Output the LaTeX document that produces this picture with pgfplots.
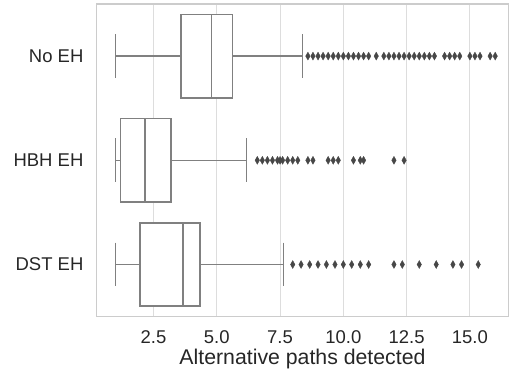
\documentclass[border=0pt]{standalone}
\usepackage{pgfplots}
\pgfplotsset{compat=1.18}
\usepgfplotslibrary{statistics}
\usepackage{fontspec}
\setmainfont{Liberation Sans}
\definecolor{boxgray}{HTML}{808080}
\definecolor{outgray}{HTML}{474747}
\definecolor{gridgray}{HTML}{DDDDDD}
\definecolor{framegray}{HTML}{CCCCCC}
\definecolor{txt}{HTML}{262626}
\begin{document}
\begin{tikzpicture}
\begin{axis}[
  name=ax,
  scale only axis,
  width=412.3pt, height=313pt,
  xmin=0.25, xmax=16.52,
  ymin=-0.5, ymax=2.5,
  y dir=reverse,
  xtick={2.5,5,7.5,10,12.5,15},
  xticklabels={2.5,5.0,7.5,10.0,12.5,15.0},
  ytick={0,1,2},
  yticklabels={No EH,HBH EH,DST EH},
  major tick length=0pt,
  xmajorgrids,
  grid style={color=gridgray, line width=1.1pt},
  axis line style={color=framegray, line width=1.3pt},
  every tick label/.append style={inner sep=0pt, text=txt, font=\fontsize{18.5}{22}\selectfont},
  yticklabel style={xshift=-13pt},
  xticklabel style={yshift=-14pt},
  xlabel={Alternative paths detected},
  xlabel style={at={(axis description cs:0.5,0)}, anchor=base, yshift=-48pt, inner sep=0pt, text=txt, font=\fontsize{21.3}{25}\selectfont},
  boxplot/draw direction=x,
  boxplot/every box/.style={draw=boxgray, line width=1.6pt, fill=white},
  boxplot/every whisker/.style={draw=boxgray, line width=1.6pt},
  boxplot/every median/.style={draw=boxgray, line width=1.6pt},
  clip=false,
]
\addplot[draw=boxgray, line width=1.6pt, fill=white, mark=diamond*, mark size=4pt,
  mark options={draw=outgray, fill=outgray, xscale=0.75, line width=0.3pt},
  boxplot prepared={draw position=0, lower whisker=1.0, lower quartile=3.59, median=4.79, upper quartile=5.62, upper whisker=8.38, box extend=0.8, whisker extend=0.42}]
coordinates {(0,8.6)(0,8.8)(0,9.0)(0,9.2)(0,9.4)(0,9.6)(0,9.8)(0,10.0)(0,10.2)(0,10.4)(0,10.6)(0,10.8)(0,11.0)
(0,11.3)
(0,11.6)(0,11.8)(0,12.0)(0,12.2)(0,12.4)(0,12.6)(0,12.8)(0,13.0)(0,13.2)(0,13.4)(0,13.6)
(0,14.0)(0,14.2)(0,14.4)(0,14.6)
(0,15.0)(0,15.2)(0,15.4)
(0,15.8)(0,16.0)};
\addplot[draw=boxgray, line width=1.6pt, fill=white, mark=diamond*, mark size=4pt,
  mark options={draw=outgray, fill=outgray, xscale=0.75, line width=0.3pt},
  boxplot prepared={draw position=1, lower whisker=1.0, lower quartile=1.2, median=2.17, upper quartile=3.2, upper whisker=6.18, box extend=0.8, whisker extend=0.42}]
coordinates {(0,6.6)(0,6.8)(0,7.0)(0,7.2)(0,7.4)(0,7.5)(0,7.6)(0,7.8)(0,8.0)(0,8.2)
(0,8.6)(0,8.8)(0,9.4)(0,9.6)(0,9.8)(0,10.4)(0,10.67)(0,10.8)(0,12.0)(0,12.4)};
\addplot[draw=boxgray, line width=1.6pt, fill=white, mark=diamond*, mark size=4pt,
  mark options={draw=outgray, fill=outgray, xscale=0.75, line width=0.3pt},
  boxplot prepared={draw position=2, lower whisker=1.0, lower quartile=1.97, median=3.67, upper quartile=4.33, upper whisker=7.64, box extend=0.8, whisker extend=0.42}]
coordinates {(0,8.0)(0,8.33)(0,8.67)(0,9.0)(0,9.33)(0,9.67)(0,10.0)(0,10.33)(0,10.67)(0,11.0)
(0,12.0)(0,12.33)(0,13.0)(0,13.67)(0,14.33)(0,14.67)(0,15.33)};
\end{axis}
\path (ax.south west)++(-96.7pt,-55pt) coordinate (bl);
\path (ax.north east)++(0pt,4pt) coordinate (tr);
\path[use as bounding box] (bl) rectangle (tr);
\end{tikzpicture}
\end{document}
